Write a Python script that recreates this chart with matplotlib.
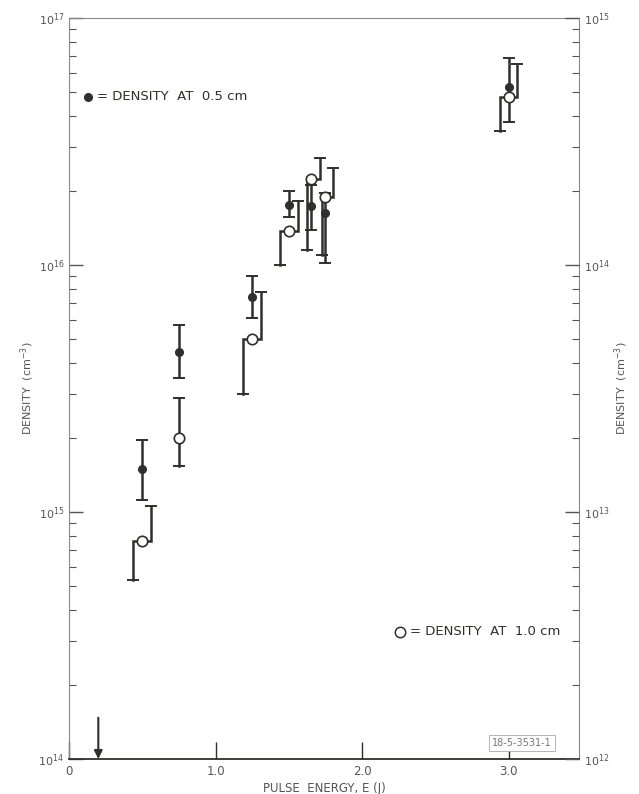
import matplotlib
matplotlib.use('Agg')
import matplotlib.pyplot as plt
from matplotlib.ticker import LogLocator, NullFormatter, FixedLocator

# ---- data -------------------------------------------------------------
energy = [0.5, 0.75, 1.25, 1.5, 1.65, 1.75, 3.0]

dens_05 = [1.5e15, 4.45e15, 7.4e15, 1.75e16, 1.74e16, 1.62e16, 5.25e16]
dens_05_lo = [1.12e15, 3.5e15, 6.1e15, 1.57e16, 1.39e16, 1.02e16, 3.8e16]
dens_05_hi = [1.96e15, 5.7e15, 9.0e15, 2.0e16, 2.1e16, 1.95e16, 6.9e16]

dens_10 = [7.6e14, 2.0e15, 5.0e15, 1.37e16, 2.23e16, 1.88e16, 4.8e16]
dens_10_lo = [5.3e14, 1.53e15, 3.0e15, 1.0e16, 1.15e16, 1.1e16, 3.5e16]
dens_10_hi = [1.06e15, 2.9e15, 7.8e15, 1.81e16, 2.7e16, 2.46e16, 6.5e16]

x_ticks = [0, 1, 2, 3]
x_ticklabels = ['0', '1.0', '2.0', '3.0']
left_ticks = [1e14, 1e15, 1e16, 1e17]
left_ticklabels = ['$10^{14}$', '$10^{15}$', '$10^{16}$', '$10^{17}$']
right_ticks = [1e12, 1e13, 1e14, 1e15]
right_ticklabels = ['$10^{12}$', '$10^{13}$', '$10^{14}$', '$10^{15}$']

# style: horizontal offsets (fraction of base offset) of the split error bars
off_left = [1, 0, 1, 1, 0.4, 0.35, 1]
off_right = [1, 0, 1, 1, 1, 0.85, 1]

INK = '#2f2f2b'
GRAY = '#555555'

plt.rcParams['font.family'] = ['DejaVu Sans']
plt.rcParams['mathtext.fontset'] = 'dejavusans'

fig = plt.figure(figsize=(6.39, 7.94), dpi=100)
ax = fig.add_axes([69/639, 1-759/794, (579-69)/639, (759-18)/794])
ax.set_yscale('log')
ax.set_xlim(0, 3.48)
ax.set_ylim(1e14, 1e17)

# filled points (0.5 cm)
v = dens_05
yerr = [[a - b for a, b in zip(v, dens_05_lo)], [c - a for a, c in zip(v, dens_05_hi)]]
ax.errorbar(energy, dens_05, yerr=yerr, fmt='o', ms=5.5, color=INK, mfc=INK, mec=INK,
            ecolor=INK, elinewidth=1.8, capsize=4, capthick=1.4, zorder=4)

# open points (1.0 cm), split error bars
d0 = 0.06
for x, y, lo, hi, fl, fr in zip(energy, dens_10, dens_10_lo, dens_10_hi, off_left, off_right):
    xl = x - d0 * fl
    xr = x + d0 * fr
    ax.plot([xl, xl, xr, xr], [lo, y, y, hi], color=INK, lw=1.8, zorder=3,
            solid_joinstyle='miter')
    ax.plot([xl], [lo], marker='_', ms=8, mew=1.4, color=INK, zorder=3)
    ax.plot([xr], [hi], marker='_', ms=8, mew=1.4, color=INK, zorder=3)
ax.plot(energy, dens_10, 'o', ms=7.5, mfc='white', mec=INK, mew=1.2, ls='none', zorder=5)

# legends as annotations
ax.plot([0.13], [4.8e16], 'o', ms=5.5, color=INK)
ax.text(0.19, 4.8e16, '= DENSITY  AT  0.5 cm', va='center', ha='left', fontsize=9.5,
        color=INK)
ax.plot([2.26], [3.27e14], 'o', ms=7.5, mfc='white', mec=INK, mew=1.1)
ax.text(2.33, 3.27e14, '= DENSITY  AT  1.0 cm', va='center', ha='left', fontsize=9.5,
        color=INK)

# arrow
ax.annotate('', xy=(0.2, 1.0e14), xytext=(0.2, 1.47e14),
            arrowprops=dict(arrowstyle='-|>', color=INK, lw=1.5, mutation_scale=12,
                            shrinkA=0, shrinkB=0))

# figure id box
ax.text(3.09, 1.16e14, '18-5-3531-1', fontsize=7, color='#777777', ha='center',
        va='center', bbox=dict(boxstyle='square,pad=0.35', fc='white', ec='#aaaaaa', lw=0.6))

# axes styling
ax.set_xticks(x_ticks)
ax.set_xticklabels(x_ticklabels)
ax.yaxis.set_major_locator(FixedLocator(left_ticks))
ax.set_yticklabels(left_ticklabels)
ax.yaxis.set_minor_locator(LogLocator(base=10, subs=range(2, 10)))
ax.yaxis.set_minor_formatter(NullFormatter())
ax.tick_params(axis='x', which='major', direction='in', length=12, width=1.0,
               colors=INK, labelcolor=GRAY, labelsize=8.5, pad=4)
ax.tick_params(axis='y', which='major', direction='in', length=10, width=1.0,
               colors=GRAY, labelcolor=GRAY, labelsize=8)
ax.tick_params(axis='y', which='minor', direction='in', length=5, width=0.8, colors=GRAY)

for side in ['left', 'right', 'top']:
    ax.spines[side].set_color('#888888')
    ax.spines[side].set_linewidth(0.8)
ax.spines['bottom'].set_color(INK)
ax.spines['bottom'].set_linewidth(1.3)

ax.set_xlabel('PULSE  ENERGY, E (J)', fontsize=8.5, color=GRAY, labelpad=3)
ax.set_ylabel('DENSITY  (cm$^{-3}$)', fontsize=8, color=GRAY, labelpad=2)

ax2 = ax.twinx()
ax2.set_yscale('log')
ax2.set_ylim(1e12, 1e15)
ax2.yaxis.set_major_locator(FixedLocator(right_ticks))
ax2.set_yticklabels(right_ticklabels)
ax2.yaxis.set_minor_locator(LogLocator(base=10, subs=range(2, 10)))
ax2.yaxis.set_minor_formatter(NullFormatter())
ax2.tick_params(axis='y', which='major', direction='in', length=10, width=1.0,
                colors=GRAY, labelcolor=GRAY, labelsize=8)
ax2.tick_params(axis='y', which='minor', direction='in', length=5, width=0.8, colors=GRAY)
for s in ax2.spines.values():
    s.set_visible(False)
ax2.set_ylabel('DENSITY  (cm$^{-3}$)', fontsize=8, color=GRAY, labelpad=2)

fig.savefig('out.png', dpi=100)
